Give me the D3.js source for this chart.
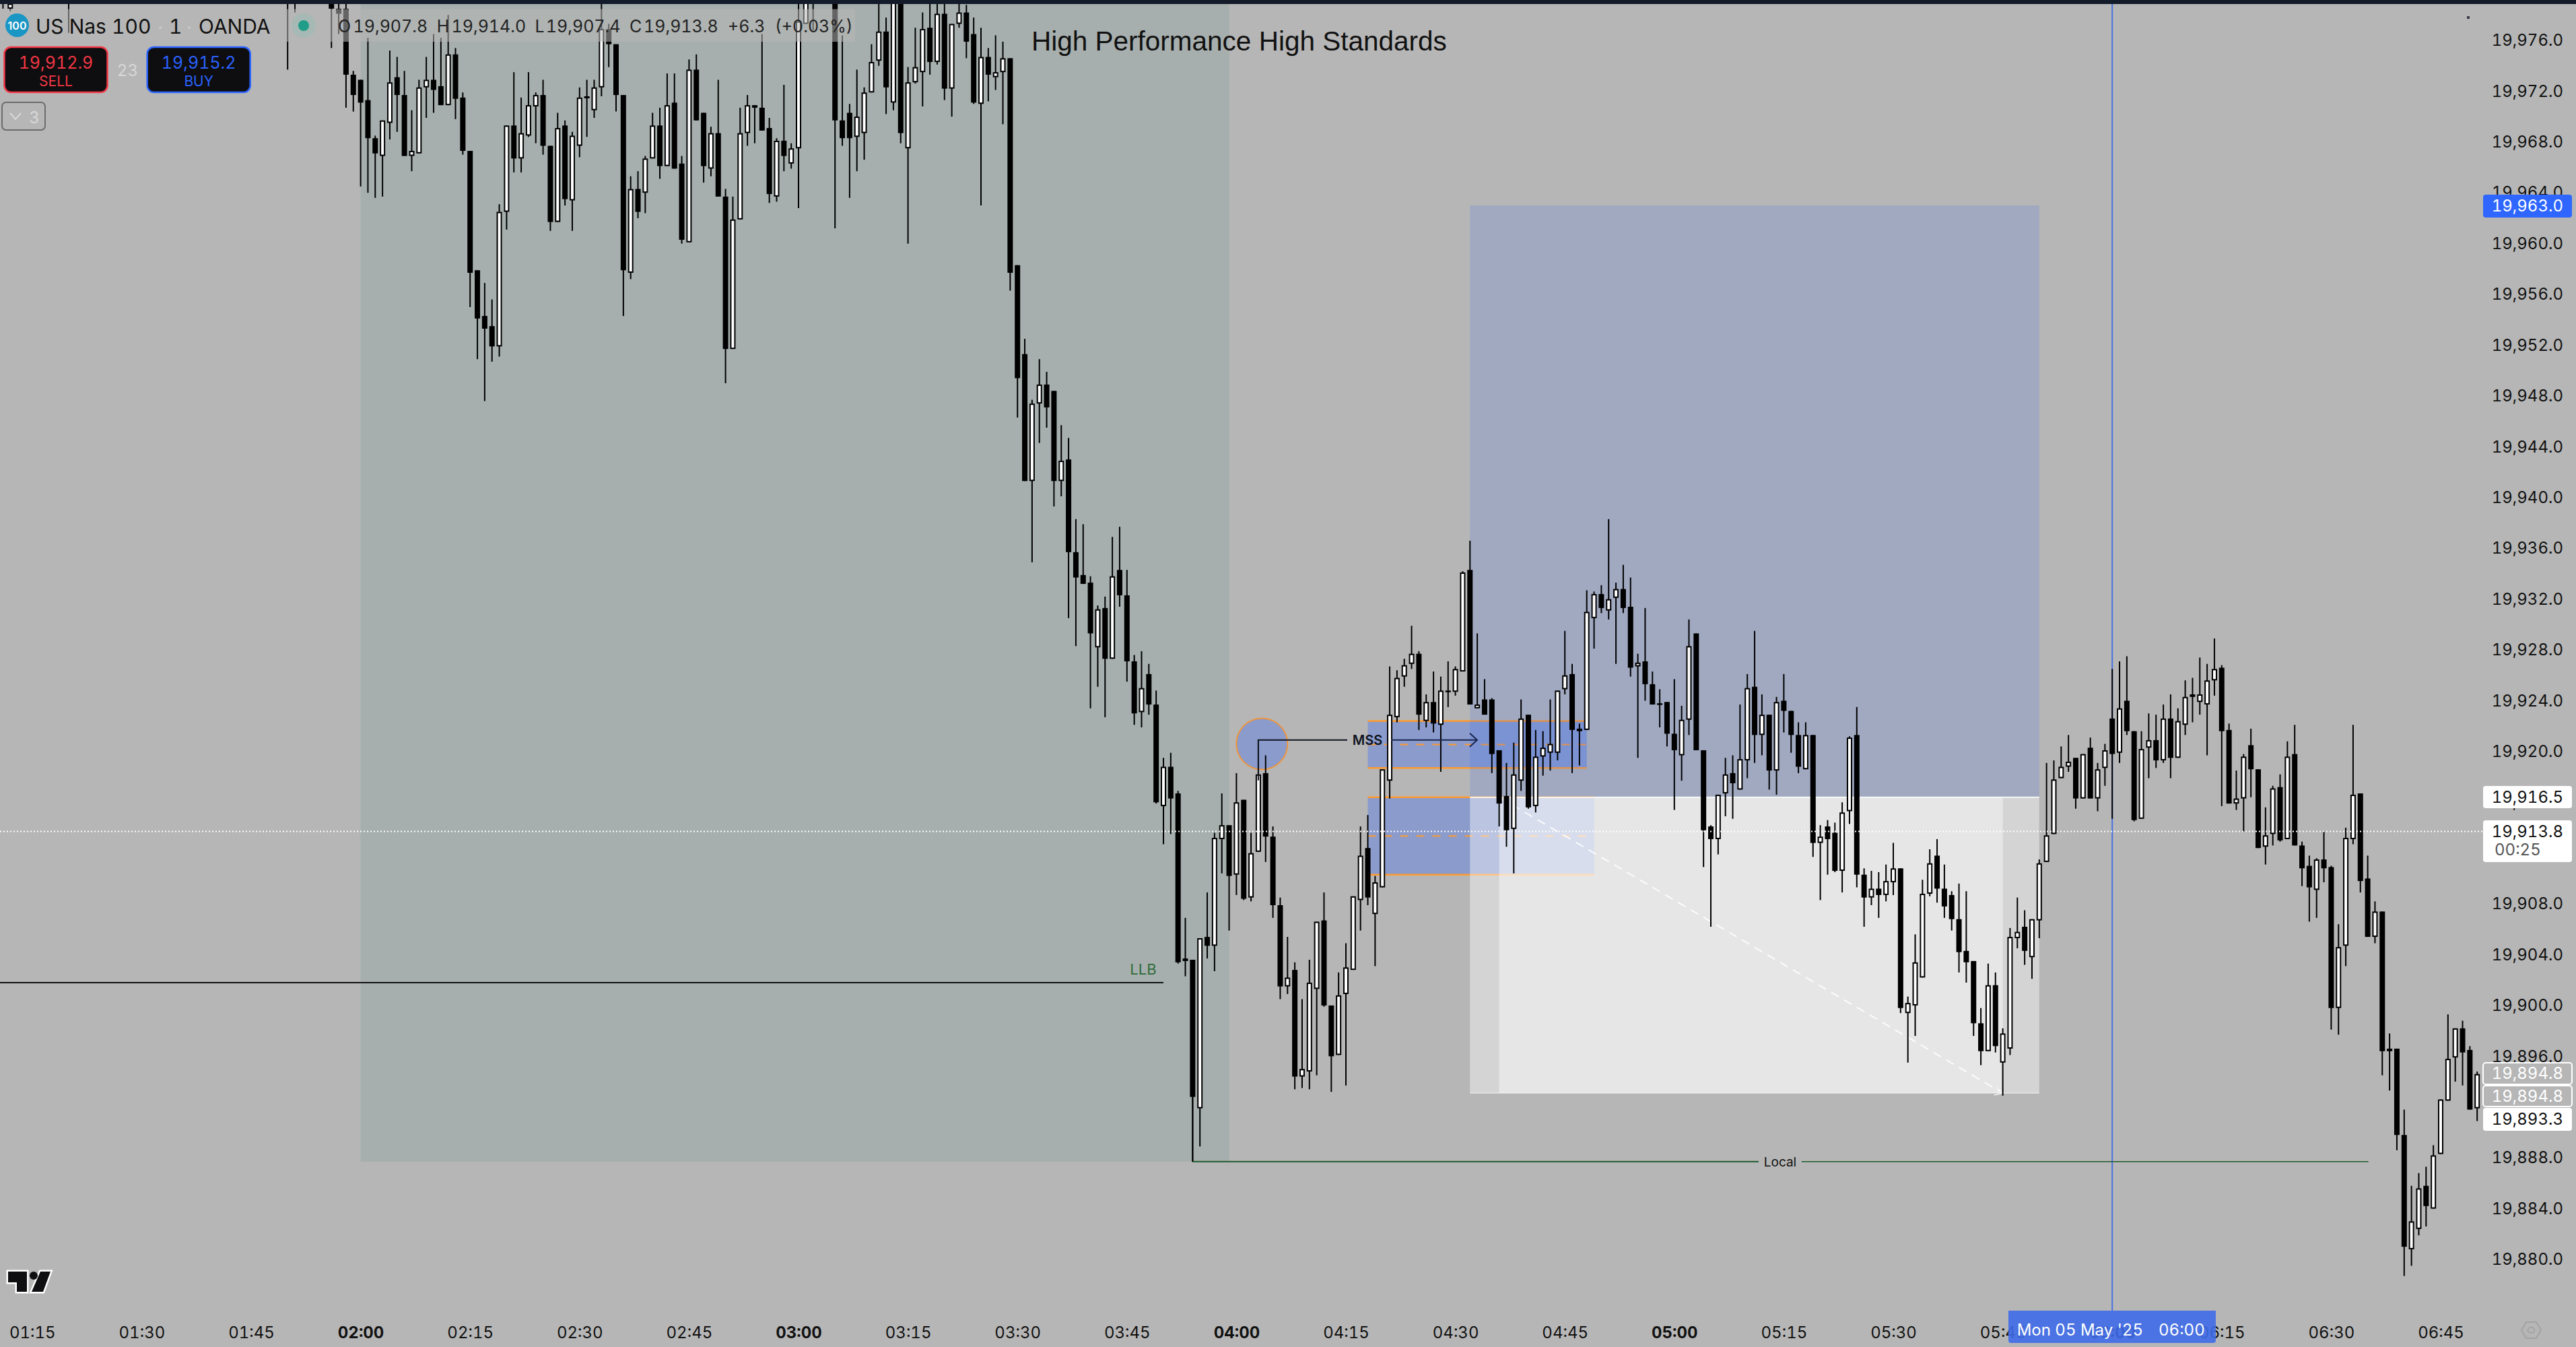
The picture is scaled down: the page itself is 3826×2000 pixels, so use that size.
<!DOCTYPE html>
<html>
<head>
<meta charset="utf-8">
<title>US Nas 100</title>
<script src="https://cdn.jsdelivr.net/npm/d3@7"></script>
<style>
	html, body { margin: 0; padding: 0; background: #b6b6b6; overflow: hidden; }
	svg { display: block; }
	text { font-family: Inter, "Liberation Sans", sans-serif; font-feature-settings: "tnum"; }
</style>
</head>
<body>
<div id="chart"></div>
<script>
///////////////////////////////////////////////////////////////////////////
//////////////////////////// data /////////////////////////////////////////
///////////////////////////////////////////////////////////////////////////

// [open, high, low, close], one row a minute.

// only what pokes into the window before 02:00
const earlyTimes = ["01:11", "01:12", "01:20", "01:50", "01:51", "01:56", "01:57", "01:58", "01:59"];
const earlyCandles = [
	[19982, 19983, 19978.5, 19980], [19978.5, 19979.5, 19978.3, 19978.9], [19983, 19984, 19976.6, 19982],
	[19983, 19984, 19973.7, 19982], [19983, 19984, 19978.2, 19982], [19982, 19983, 19975.4, 19978.5],
	[19978.5, 19978.9, 19976.5, 19978.1], [19978.5, 19979, 19970.7, 19973.3], [19973.3, 19973.6, 19970.4, 19971.7]
];

const candles02 = [
	[19972.9, 19972.9, 19964.5, 19971.1], [19971.3, 19976.2, 19964, 19968.3], [19968.3, 19968.5, 19963.6, 19967.1],
	[19966.9, 19969.7, 19963.7, 19969.7], [19969.5, 19975.2, 19968.2, 19972.7], [19973.1, 19974.7, 19968.8, 19971.7],
	[19971.7, 19973.6, 19966.9, 19966.9], [19966.9, 19970.5, 19965.7, 19967.3], [19967.1, 19972.9, 19967.1, 19972.3],
	[19972.3, 19974.7, 19969.9, 19972.9], [19972.9, 19976.5, 19970.3, 19972.1], [19972.4, 19976.2, 19970.9, 19970.9],
	[19970.9, 19978, 19970.9, 19974.9], [19974.9, 19975.4, 19969.8, 19971.4], [19971.5, 19971.9, 19967, 19967.3],
	[19967.3, 19967.3, 19955, 19957.7], [19957.9, 19957.9, 19950.9, 19954.1], [19954.3, 19956.9, 19947.6, 19953.3],
	[19953.5, 19955.6, 19950.7, 19951.9], [19951.9, 19963.1, 19951.1, 19962.5], [19962.5, 19969.3, 19961.1, 19969.3],
	[19969.3, 19973.5, 19965.6, 19966.7], [19966.7, 19971.5, 19965.6, 19968.7], [19968.5, 19973.5, 19968.4, 19970.9],
	[19970.8, 19971.9, 19967.9, 19971.7], [19971.7, 19972.9, 19967, 19967.7], [19967.7, 19967.7, 19961, 19961.7],
	[19961.7, 19970.3, 19961.7, 19969.1], [19969.3, 19969.7, 19963, 19963.5], [19963.4, 19968.8, 19961, 19968.5],
	[19967.7, 19972.3, 19966.8, 19971.5], [19971.5, 19972.9, 19968.4, 19971.6], [19970.5, 19972.9, 19969.9, 19972.3],
	[19972.3, 19979, 19971.6, 19976.9], [19976.9, 19977.3, 19973.9, 19975.7], [19975.7, 19975.7, 19970.4, 19971.7],
	[19971.7, 19971.7, 19954.3, 19957.9], [19957.7, 19965.3, 19957.2, 19964.3], [19964.3, 19965.7, 19962, 19962.5],
	[19964, 19966.9, 19962.4, 19966.7], [19966.7, 19970.3, 19966.7, 19969.3], [19969.3, 19970.7, 19965.1, 19966.1],
	[19966.1, 19973.4, 19966.1, 19970.9], [19971.1, 19973.4, 19965.9, 19965.9], [19966.3, 19966.9, 19960, 19960.3],
	[19960.1, 19974.5, 19960.1, 19973.7], [19973.7, 19974.9, 19969.7, 19969.7], [19970.3, 19970.3, 19964.8, 19966.1],
	[19965.9, 19969.2, 19965.3, 19968.7], [19968.7, 19972.9, 19963.7, 19963.7], [19963.7, 19964.3, 19949, 19951.7],
	[19951.7, 19963.7, 19951.7, 19961.9], [19961.9, 19970.7, 19961.9, 19968.7], [19968.7, 19971.7, 19967.7, 19970.9],
	[19970.9, 19970.9, 19967.9, 19970.7], [19970.7, 19976.5, 19968.9, 19968.9], [19969.1, 19969.9, 19963.2, 19963.9],
	[19963.7, 19968.3, 19963.3, 19968.1], [19968.1, 19972.5, 19965.7, 19966.9], [19966.3, 19967.9, 19965.9, 19967.5]
];

const candles03 = [
	[19967.5, 19979, 19962.8, 19977.5], [19977.3, 19981, 19977.3, 19980], [19982, 19983, 19976.8, 19980],
	[19981, 19982, 19980, 19980.5], [19981, 19982, 19980, 19980.5], [19982, 19983, 19961.2, 19969.7],
	[19969.7, 19976.4, 19967.7, 19968.3], [19970.3, 19971, 19963.6, 19968.3], [19968.4, 19973.7, 19965.7, 19970],
	[19968.7, 19972.3, 19966.6, 19971.9], [19971.9, 19975.7, 19971.9, 19974.3], [19974.4, 19979, 19974, 19976.7],
	[19976.7, 19977.8, 19970.2, 19972.3], [19971.1, 19981, 19970.5, 19980], [19981, 19982, 19967.9, 19968.7],
	[19967.5, 19973.9, 19960, 19972.7], [19972.7, 19977, 19972.6, 19973.9], [19973.5, 19978.2, 19970.8, 19976.9],
	[19977, 19979.5, 19973.3, 19974.3], [19974.3, 19980, 19974.1, 19978.1], [19978.1, 19980, 19971.3, 19972.2],
	[19972.2, 19977.3, 19970, 19977.3], [19977.3, 19980, 19977, 19978.2], [19978.2, 19978.8, 19974.6, 19975.9],
	[19976.5, 19977.8, 19971, 19971.1], [19971, 19977, 19963, 19974.7], [19974.7, 19975.4, 19971.2, 19973.3],
	[19973.1, 19976.4, 19972.1, 19973.5], [19973.5, 19975.9, 19969.4, 19974.6], [19974.6, 19974.6, 19956.3, 19957.7],
	[19958.3, 19958.3, 19946.3, 19949.4], [19951.3, 19952.5, 19941.3, 19941.3], [19941.3, 19947.7, 19934.9, 19947.4],
	[19947.4, 19950.9, 19944.3, 19948.9], [19948.9, 19949.9, 19945.5, 19947.1], [19948.4, 19948.4, 19939.3, 19941.3],
	[19941.3, 19945.7, 19940.1, 19942.9], [19943, 19944.7, 19930.5, 19935.7], [19935.7, 19938.3, 19928.3, 19933.7],
	[19933.9, 19937.9, 19933.2, 19933.2], [19933.3, 19933.8, 19923.4, 19929.3], [19928.2, 19931.5, 19925.1, 19931.2],
	[19931.3, 19932.2, 19922.7, 19927.3], [19927.3, 19936.9, 19927.3, 19933.8], [19934.3, 19937.7, 19931.4, 19932.3],
	[19932.3, 19934.3, 19925.5, 19927.1], [19927.1, 19927.6, 19922.1, 19923], [19923.1, 19927.9, 19921.9, 19925],
	[19926.1, 19926.9, 19922.9, 19923.7], [19923.7, 19924.8, 19915.9, 19916], [19915.7, 19919.5, 19912.7, 19918.8],
	[19918.8, 19919.9, 19913.5, 19916.3], [19916.7, 19916.9, 19903.3, 19903.4], [19903.7, 19906.9, 19902.3, 19903.5],
	[19903.6, 19903.6, 19887.7, 19892.8], [19891.9, 19905.3, 19888.9, 19905.3], [19905.4, 19908.9, 19903.7, 19904.7],
	[19904.7, 19913.6, 19902.7, 19913.2], [19913.1, 19916.7, 19910.4, 19914.2], [19914.2, 19914.2, 19905.9, 19910.2]
];

const candles04 = [
	[19910.3, 19918.3, 19908.7, 19916], [19916.2, 19916.2, 19908.3, 19908.4], [19908.5, 19913.6, 19908.2, 19912],
	[19912.1, 19920.9, 19912.1, 19918.2], [19918.3, 19919.7, 19911.3, 19913.3], [19913.3, 19914.1, 19906.9, 19907.9],
	[19907.9, 19908.5, 19900.5, 19901.5], [19901.5, 19905.4, 19900.9, 19902.2], [19902.8, 19903.4, 19893.4, 19894.4],
	[19894.4, 19900.5, 19893.5, 19895], [19894.8, 19903.6, 19893.4, 19901.8], [19901.3, 19906.6, 19894.5, 19906.6],
	[19906.7, 19908.9, 19899.9, 19900], [19900, 19900, 19893.2, 19896], [19896.1, 19902.6, 19896.1, 19900.8],
	[19900.9, 19904.9, 19893.7, 19903], [19902.8, 19908.6, 19902.8, 19908.6], [19908.3, 19914.1, 19905.9, 19911.8],
	[19912.4, 19915, 19907.9, 19908.5], [19907.2, 19910.2, 19903.1, 19909.7], [19909.3, 19918.6, 19909.3, 19918.6],
	[19917.7, 19926.7, 19916.3, 19922.9], [19922.7, 19926.4, 19922.3, 19925.8], [19925.9, 19927.3, 19925.1, 19926.8],
	[19926.9, 19929.9, 19926.5, 19927.7], [19927.7, 19927.9, 19921.7, 19922.9], [19922.4, 19924.5, 19921.9, 19923.9],
	[19923.9, 19926.3, 19921.5, 19922.2], [19922.1, 19925.9, 19918.4, 19924.8], [19924.8, 19927.1, 19923.5, 19924.7],
	[19924.7, 19926.7, 19924.4, 19926.5], [19926.3, 19934.2, 19926.3, 19934.1], [19934.3, 19936.6, 19923.7, 19923.7],
	[19923.4, 19929.3, 19923.4, 19923.7], [19924.1, 19925.7, 19922.9, 19922.9], [19924.1, 19924.2, 19918.3, 19919.8],
	[19920.1, 19920.1, 19914.1, 19915.9], [19916.5, 19919.1, 19912.5, 19913.8], [19913.9, 19920.7, 19910.4, 19918.2],
	[19917.7, 19924.1, 19916.9, 19922.6], [19922.9, 19922.9, 19915.5, 19915.6], [19915.7, 19921.7, 19915.2, 19919.6],
	[19919.6, 19921.6, 19918.1, 19920.3], [19919.9, 19924.1, 19918.5, 19920.6], [19919.9, 19924.8, 19919.3, 19924.8],
	[19924.9, 19929.5, 19924.5, 19926], [19926.1, 19926.9, 19918.3, 19921.7], [19921.8, 19922.2, 19918.9, 19921.6],
	[19921.7, 19932.7, 19921.7, 19931], [19930.5, 19932.6, 19928.1, 19932.4], [19932.4, 19933.1, 19930.9, 19931.3],
	[19931.1, 19938.3, 19930.4, 19932], [19932.1, 19933.3, 19926.9, 19932.8], [19932.8, 19934.7, 19930.9, 19931.3],
	[19931.4, 19933.7, 19925.9, 19926.6], [19926.7, 19927.7, 19919.5, 19927], [19927.1, 19931.3, 19924, 19925.3],
	[19925.3, 19926.3, 19923.7, 19923.7], [19923.8, 19924.9, 19921.9, 19923.7], [19923.9, 19923.9, 19920.4, 19921.4]
];

const candles05 = [
	[19921.4, 19925.7, 19915.4, 19920.1], [19919.7, 19923.6, 19917.7, 19922.5], [19922.5, 19930.4, 19921.3, 19928.3],
	[19929.3, 19929.3, 19920.1, 19920.1], [19920.1, 19920.1, 19910.9, 19913.8], [19914.1, 19914.2, 19906.2, 19913.1],
	[19913.1, 19916.6, 19911.9, 19916.6], [19916.7, 19919.5, 19914.9, 19918.2], [19918.3, 19919.7, 19914.7, 19917.5],
	[19917, 19923.7, 19917, 19919.4], [19919.3, 19926.1, 19917.9, 19925], [19925.1, 19929.5, 19919.1, 19921.3],
	[19921.3, 19924.5, 19919.7, 19922.9], [19922.9, 19922.9, 19917, 19918.5], [19918.5, 19924.3, 19916.6, 19923.9],
	[19924, 19926.1, 19921.5, 19923.2], [19923.2, 19923.2, 19919.9, 19921.3], [19921.3, 19922.3, 19918.3, 19918.8],
	[19918.6, 19922.3, 19918.6, 19921.3], [19921.3, 19921.3, 19911.7, 19912.8], [19912.8, 19914.2, 19908.3, 19913.3],
	[19914.1, 19914.6, 19910.3, 19913.1], [19913.6, 19914.4, 19910.5, 19910.6], [19910.6, 19916, 19908.9, 19915.2],
	[19915.3, 19921.2, 19914.3, 19921.1], [19921.3, 19923.5, 19909.3, 19910.3], [19910.3, 19910.8, 19906.2, 19908.5],
	[19908.5, 19910.6, 19907.9, 19909.2], [19909.2, 19910.5, 19906.9, 19908.7], [19908.7, 19911.1, 19908.2, 19909.8],
	[19909.7, 19912.8, 19908.7, 19910.8], [19910.8, 19910.8, 19899.4, 19899.8], [19899.4, 19900.7, 19895.5, 19900.2],
	[19900, 19905.6, 19897.6, 19903.4], [19902.2, 19909.9, 19902.2, 19908.8], [19908.8, 19912.3, 19908.6, 19911.2],
	[19911.8, 19913.1, 19908.1, 19909.2], [19909.2, 19911.1, 19906.9, 19907.8], [19908.7, 19909, 19905.9, 19906.8],
	[19906.8, 19909.6, 19902.6, 19904.2], [19904.3, 19909, 19901.8, 19903.4], [19903.5, 19903.5, 19897.6, 19898.6],
	[19898.6, 19899.8, 19895.3, 19896.4], [19896.4, 19903.3, 19896.4, 19901.6], [19901.6, 19902.6, 19896.3, 19896.8],
	[19895.5, 19898.2, 19892.9, 19897.8], [19896.6, 19906.1, 19896.1, 19905.4], [19905.3, 19908.5, 19904.5, 19905.8],
	[19906.2, 19907.5, 19903.2, 19904.3], [19903.8, 19906.8, 19902.1, 19906.8], [19906.7, 19911.5, 19905.3, 19911.2],
	[19911.3, 19919.1, 19911.3, 19913.4], [19913.5, 19919.3, 19913.5, 19917.8], [19917.9, 19920.4, 19917.9, 19918.8],
	[19918.8, 19921.3, 19918.4, 19919.2], [19919.5, 19919.5, 19915.5, 19916.3], [19916.3, 19919.8, 19916.3, 19919.8],
	[19920.3, 19921.1, 19916.3, 19916.3], [19916.3, 19919.1, 19915.3, 19918.6], [19918.7, 19920.6, 19917.3, 19920.1]
];

const candles06 = [
	[19922.6, 19926.5, 19914.7, 19919.8], [19919.9, 19927.1, 19919.1, 19923.4], [19924, 19927.5, 19921.3, 19921.6],
	[19921.6, 19921.6, 19914.5, 19914.6], [19914.7, 19921.6, 19914.7, 19920.2], [19920.3, 19923, 19917.9, 19920.9],
	[19920.9, 19922.9, 19918.7, 19919.3], [19919.3, 19923.7, 19919.1, 19922.6], [19922.6, 19924.5, 19917.9, 19919.5],
	[19919.5, 19923.4, 19919.5, 19922.4], [19922.1, 19925.6, 19921.3, 19924.3], [19924.3, 19925.8, 19922.3, 19924.5],
	[19923.9, 19927.4, 19922.9, 19924.5], [19923.7, 19926.9, 19919.7, 19925.6], [19925.6, 19928.9, 19924.4, 19926.5],
	[19926.6, 19926.8, 19915.7, 19921.6], [19921.7, 19922.2, 19915.9, 19915.9], [19915.9, 19918.5, 19915.4, 19916.3],
	[19916.3, 19919.8, 19913.7, 19919.6], [19920.5, 19921.8, 19916.4, 19918.6], [19918.6, 19918.6, 19912.4, 19912.4],
	[19912.5, 19915.6, 19911.1, 19913.4], [19913.5, 19917.3, 19912.6, 19917.1], [19917.2, 19918.2, 19912.9, 19913],
	[19913.1, 19920.8, 19913.1, 19919.6], [19919.8, 19922.1, 19912.6, 19912.6], [19912.6, 19912.9, 19909.4, 19910.8],
	[19911, 19911.8, 19906.6, 19909.3], [19909.1, 19911.6, 19906.9, 19911.5], [19911.5, 19913.7, 19909.7, 19910.8],
	[19910.9, 19911, 19898.1, 19899.8], [19899.8, 19906.4, 19897.7, 19904.6], [19904.7, 19914, 19903.1, 19913.2],
	[19913.1, 19922.1, 19912.7, 19916.6], [19916.7, 19916.7, 19908.9, 19909.8], [19910, 19911.8, 19905.4, 19905.4],
	[19905.4, 19908.2, 19904.9, 19907.4], [19907.4, 19907.4, 19894.5, 19896.4], [19896.6, 19897.8, 19893.3, 19896.4],
	[19896.6, 19896.6, 19888.6, 19889.8], [19889.8, 19891.8, 19878.7, 19881], [19880.8, 19885.8, 19879.5, 19883],
	[19882.4, 19886.8, 19881.9, 19885.6], [19885.8, 19887.3, 19882.6, 19884.2], [19884, 19889, 19884, 19888.2],
	[19888.3, 19892.6, 19888.3, 19892.6], [19892.5, 19899.3, 19892.5, 19895.8], [19895.9, 19898.2, 19894, 19898.2],
	[19898.2, 19898.8, 19893.7, 19896.3], [19896.5, 19896.8, 19891.8, 19891.8], [19891.9, 19894.8, 19890.9, 19894.6]
];

// axes
const priceTicks = [19976, 19972, 19968, 19964, 19960, 19956, 19952, 19948, 19944, 19940, 19936, 19932, 19928,
	19924, 19920, 19916, 19912, 19908, 19904, 19900, 19896, 19888, 19884, 19880];
const timeTicks = ["01:15", "01:30", "01:45", "02:00", "02:15", "02:30", "02:45", "03:00", "03:15", "03:30", "03:45",
	"04:00", "04:15", "04:30", "04:45", "05:00", "05:15", "05:30", "05:45", "06:00", "06:15", "06:30", "06:45"];

// drawings, in price and time
const sessionBox = { from: "02:00", to: "03:59", top: 19985, bottom: 19887.7 };
const longPosition = { from: "04:32", to: "05:50", target: 19963, entry: 19916.4, stop: 19893.1 };
const rangeInner = { from: "04:36", to: "05:45" };
const gaps = [
	{ from: "04:18", to: "04:48", top: 19922.4, bottom: 19918.7 },
	{ from: "04:18", to: "04:49", top: 19916.4, bottom: 19910.3 }
];
const lastPrice = 19913.7;
const crosshairTime = "06:00";

// header
const ohlcLabels = ["O", "19,907.8", "H", "19,914.0", "L", "19,907.4", "C", "19,913.8", "+6.3", "(+0.03%)"];

///////////////////////////////////////////////////////////////////////////
//////////////////////////// drawing function /////////////////////////////
///////////////////////////////////////////////////////////////////////////

const createChart = () => {
	const width = 3826;
	const height = 2000;
	const font = 'Inter, "Liberation Sans", sans-serif';

	const toDate = (t) => new Date(`2025-05-05T${t}:00Z`);
	const addMinutes = (t, i) => new Date(toDate(t).getTime() + i * 60000);

	//////////////////////////// candles //////////////////////////////////////

	const toCandle = (row, date) => ({ date, open: row[0], high: row[1], low: row[2], close: row[3] });

	let candles = earlyCandles.map((row, i) => toCandle(row, toDate(earlyTimes[i])));
	[["02:00", candles02], ["03:00", candles03], ["04:00", candles04], ["05:00", candles05], ["06:00", candles06]]
		.forEach(([start, rows]) => {
			rows.forEach((row, i) => candles.push(toCandle(row, addMinutes(start, i))));
		});

	//////////////////////////// scales ///////////////////////////////////////

	const xScale = d3.scaleUtc().domain([toDate("02:00"), toDate("06:00")]).range([535.6, 3137.2]);
	const yScale = d3.scaleLinear().domain([19976, 19880]).range([60, 1870]);

	//////////////////////////// svg //////////////////////////////////////////

	const svg = d3.select("#chart").append("svg").attr("width", width).attr("height", height);
	svg.append("rect").attr("width", width).attr("height", height).attr("fill", "#b6b6b6");

	svg.append("defs").append("clipPath").attr("id", "pane")
		.append("rect").attr("x", 0).attr("y", 6).attr("width", 3690).attr("height", 1940);

	const pane = svg.append("g").attr("clip-path", "url(#pane)");

	//////////////////////////// boxes under the candles //////////////////////

	const box = (parent, from, to, top, bottom) => parent.append("rect")
		.attr("x", xScale(toDate(from)))
		.attr("width", xScale(toDate(to)) - xScale(toDate(from)))
		.attr("y", yScale(top))
		.attr("height", yScale(bottom) - yScale(top));

	box(pane, sessionBox.from, sessionBox.to, sessionBox.top, sessionBox.bottom).attr("fill", "#a6afad");

	const xCross = xScale(toDate(crosshairTime));
	pane.append("line").attr("x1", xCross).attr("x2", xCross).attr("y1", 6).attr("y2", 1946)
		.attr("stroke", "#4672e0").attr("stroke-width", 2);

	gaps.forEach((g) => {
		box(pane, g.from, g.to, g.top, g.bottom).attr("fill", "#2962ff").attr("fill-opacity", 0.31);
		[g.top, g.bottom].forEach((p) => {
			pane.append("line")
				.attr("x1", xScale(toDate(g.from))).attr("x2", xScale(toDate(g.to)))
				.attr("y1", yScale(p)).attr("y2", yScale(p))
				.attr("stroke", "#ff9a2e").attr("stroke-width", 2.5);
		});
		pane.append("line")
			.attr("x1", xScale(toDate(g.from))).attr("x2", xScale(toDate(g.to)))
			.attr("y1", yScale((g.top + g.bottom) / 2)).attr("y2", yScale((g.top + g.bottom) / 2))
			.attr("stroke", "#ff9a2e").attr("stroke-width", 2).attr("stroke-dasharray", "12 12");
	});

	// circle on the swing high
	pane.append("circle")
		.attr("cx", xScale(addMinutes("04:03", 0.5))).attr("cy", yScale(19920.6)).attr("r", 38)
		.attr("fill", "#2962ff").attr("fill-opacity", 0.31)
		.attr("stroke", "#f0953a").attr("stroke-width", 2);

	// long position tool
	const lp = longPosition;
	box(pane, lp.from, lp.to, lp.target, lp.entry).attr("fill", "#2962ff").attr("fill-opacity", 0.15);
	box(pane, lp.from, lp.to, lp.entry, lp.stop).attr("fill", "#fff").attr("fill-opacity", 0.42);
	box(pane, rangeInner.from, rangeInner.to, lp.entry, lp.stop).attr("fill", "#fff").attr("fill-opacity", 0.42);
	[[lp.entry, 0.85], [lp.stop, 0.4]].forEach(([p, o]) => {
		pane.append("line")
			.attr("x1", xScale(toDate(lp.from))).attr("x2", xScale(toDate(lp.to)))
			.attr("y1", yScale(p)).attr("y2", yScale(p))
			.attr("stroke", "#fff").attr("stroke-opacity", o).attr("stroke-width", 2);
	});

	// dashed diagonal with arrow
	const dx1 = xScale(toDate(rangeInner.from));
	const dx2 = xScale(toDate(rangeInner.to));
	const dy1 = yScale(lp.entry);
	const dy2 = yScale(lp.stop);
	pane.append("line").attr("x1", dx1).attr("y1", dy1).attr("x2", dx2).attr("y2", dy2)
		.attr("stroke", "#fff").attr("stroke-opacity", 0.85).attr("stroke-width", 2).attr("stroke-dasharray", "13 9");
	pane.append("path")
		.attr("d", `M${dx2 - 13},${dy2 + 3}L${dx2},${dy2}L${dx2 - 9},${dy2 - 9}`)
		.attr("fill", "none").attr("stroke", "#f4f4f4").attr("stroke-width", 1.5);

	//////////////////////////// lines and labels under candles ///////////////

	const llbY = yScale(19901.8);
	pane.append("line").attr("x1", 0).attr("x2", 1728).attr("y1", llbY).attr("y2", llbY)
		.attr("stroke", "#111").attr("stroke-width", 2);
	pane.append("text").attr("x", 1698).attr("y", llbY - 12).attr("text-anchor", "middle")
		.attr("font-size", 22).attr("fill", "#2f6b3a").text("LLB");

	const localY = yScale(19887.7);
	const localX = xScale(addMinutes("03:54", 0));
	pane.append("line").attr("x1", localX).attr("x2", localX).attr("y1", yScale(19892.8)).attr("y2", localY)
		.attr("stroke", "#111").attr("stroke-width", 2);
	pane.append("line").attr("x1", localX).attr("x2", 2612).attr("y1", localY).attr("y2", localY)
		.attr("stroke", "#1e5a2a").attr("stroke-width", 2);
	pane.append("line").attr("x1", 2676).attr("x2", 3517.6).attr("y1", localY).attr("y2", localY)
		.attr("stroke", "#1e5a2a").attr("stroke-width", 1.5);
	pane.append("text").attr("x", 2644).attr("y", localY + 7).attr("text-anchor", "middle")
		.attr("font-size", 19).attr("fill", "#111").text("Local");

	//////////////////////////// candles //////////////////////////////////////

	const bodyWidth = 8;
	const candle = pane.append("g").selectAll("g").data(candles).join("g");

	candle.append("line")
		.attr("x1", (d) => xScale(d.date)).attr("x2", (d) => xScale(d.date))
		.attr("y1", (d) => yScale(d.high)).attr("y2", (d) => yScale(d.low))
		.attr("stroke", "#000").attr("stroke-width", 2);

	candle.filter((d) => d.close < d.open).append("rect")
		.attr("x", (d) => xScale(d.date) - bodyWidth / 2)
		.attr("width", bodyWidth)
		.attr("y", (d) => yScale(d.open))
		.attr("height", (d) => Math.max(2.5, yScale(d.close) - yScale(d.open)))
		.attr("fill", "#000");

	candle.filter((d) => d.close >= d.open).append("rect")
		.attr("x", (d) => xScale(d.date) - bodyWidth / 2 + 1)
		.attr("width", bodyWidth - 2)
		.attr("y", (d) => yScale(d.close) + 1)
		.attr("height", (d) => Math.max(1, yScale(d.open) - yScale(d.close) - 2))
		.attr("fill", "#fff").attr("stroke", "#000").attr("stroke-width", 2);

	//////////////////////////// MSS //////////////////////////////////////////

	const mssY = yScale(19920.9);
	const mssX = xScale(addMinutes("04:03", 0));
	pane.append("path")
		.attr("d", `M${mssX},${mssY + 60}V${mssY}H2001`)
		.attr("fill", "none").attr("stroke", "#10141f").attr("stroke-width", 2);
	pane.append("text").attr("x", 2031).attr("y", mssY + 7).attr("text-anchor", "middle")
		.attr("font-size", 20).attr("font-weight", 600).attr("fill", "#10141f").text("MSS");
	pane.append("path")
		.attr("d", `M2066,${mssY}H2194M2183,${mssY - 10}L2194,${mssY}L2183,${mssY + 10}`)
		.attr("fill", "none").attr("stroke", "#1a2750").attr("stroke-width", 2);

	// last price dots go over the candles
	svg.append("line").attr("x1", 0).attr("x2", 3688)
		.attr("y1", yScale(lastPrice)).attr("y2", yScale(lastPrice))
		.attr("stroke", "#fff").attr("stroke-width", 2).attr("stroke-dasharray", "2 3");

	//////////////////////////// axes /////////////////////////////////////////

	const yAxis = svg.append("g")
		.attr("transform", "translate(3807,0)")
		.call(d3.axisLeft(yScale).tickValues(priceTicks).tickSize(0).tickPadding(0).tickFormat(d3.format(",.1f")));
	yAxis.select(".domain").remove();
	yAxis.selectAll("text").attr("font-family", font).attr("font-size", 24).attr("fill", "#111");

	const xAxis = svg.append("g")
		.attr("transform", "translate(0,1970)")
		.call(d3.axisBottom(xScale).tickValues(timeTicks.map(toDate)).tickSize(0).tickPadding(0)
			.tickFormat(d3.utcFormat("%H:%M")));
	xAxis.select(".domain").remove();
	xAxis.selectAll("text")
		.attr("font-family", font).attr("font-size", 24).attr("fill", "#111")
		.attr("font-weight", (d) => (d.getUTCMinutes() === 0 ? 700 : 400));

	//////////////////////////// price tags ///////////////////////////////////

	const priceText = (txt, y, fill) => svg.append("text")
		.attr("x", 3807).attr("y", y).attr("text-anchor", "end").attr("dominant-baseline", "central")
		.attr("font-size", 24).attr("fill", fill).text(txt);

	const tag = (y, h, fill, stroke) => svg.append("rect")
		.attr("x", 3688).attr("y", y).attr("width", 132).attr("height", h).attr("rx", 4)
		.attr("fill", fill).attr("stroke", stroke || "none").attr("stroke-width", 2);

	tag(289, 34, "#2e66ff");
	priceText("19,963.0", 305, "#fff");
	tag(1167, 33, "#fff");
	priceText("19,916.5", 1183, "#111");
	tag(1218, 62, "#fff");
	priceText("19,913.8", 1234, "#111");
	svg.append("text").attr("x", 3705).attr("y", 1261).attr("dominant-baseline", "central")
		.attr("font-size", 24).attr("fill", "#555").text("00:25");
	tag(1578, 32, "#b6b6b6", "#fff");
	priceText("19,894.8", 1593, "#fff");
	tag(1612, 31, "#b6b6b6", "#fff");
	priceText("19,894.8", 1627, "#fff");
	tag(1645, 34, "#fff");
	priceText("19,893.3", 1661, "#111");

	// crosshair time label, square on top and rounded below
	svg.append("path").attr("d", "M2983,1946H3291V1990a4,4 0 0 1 -4,4H2987a4,4 0 0 1 -4,-4Z")
		.attr("fill", "#3f6be8").attr("fill-opacity", 0.9);
	svg.append("text").attr("x", 3183).attr("y", 1974).attr("dominant-baseline", "central").attr("text-anchor", "end")
		.attr("font-size", 24).attr("fill", "#fff").text("Mon 05 May '25");
	svg.append("text").attr("x", 3206).attr("y", 1974).attr("dominant-baseline", "central")
		.attr("font-size", 24).attr("fill", "#fff").text("06:00");

	//////////////////////////// header ///////////////////////////////////////

	svg.append("rect").attr("width", width).attr("height", 6).attr("fill", "#131a2a");

	// legend strip dims whatever runs under it
	svg.append("rect").attr("x", 0).attr("y", 13.5).attr("width", 1270).attr("height", 48.5)
		.attr("fill", "#b6b6b6").attr("fill-opacity", 0.55);

	svg.append("circle").attr("cx", 25.5).attr("cy", 37.5).attr("r", 17.5).attr("fill", "#1a96c4");
	svg.append("text").attr("x", 25.5).attr("y", 38).attr("text-anchor", "middle").attr("dominant-baseline", "central")
		.style("font-feature-settings", "normal")
		.attr("font-size", 16).attr("font-weight", 600).attr("fill", "#fff").text("100");

	const headText = (txt, x) => svg.append("text").attr("x", x).attr("y", 39).attr("dominant-baseline", "central")
		.attr("font-size", 30).attr("fill", "#111").text(txt);
	headText("US Nas 100", 53);
	headText("1", 251);
	headText("OANDA", 295);
	[238, 281].forEach((x) => svg.append("circle").attr("cx", x).attr("cy", 41).attr("r", 2).attr("fill", "#c9c9c9"));

	svg.append("circle").attr("cx", 451).attr("cy", 38).attr("r", 18).attr("fill", "#a6b9b4");
	svg.append("circle").attr("cx", 451).attr("cy", 38).attr("r", 8).attr("fill", "#1f9d88");

	const ohlcX = [502, 524.5, 648.7, 670.5, 794.6, 810.8, 935, 956, 1081, 1151];
	ohlcLabels.forEach((txt, i) => {
		svg.append("text").attr("x", ohlcX[i]).attr("y", 39).attr("dominant-baseline", "central")
			.attr("font-size", 25).attr("fill", "#222").text(txt);
	});

	// title
	svg.append("text").attr("x", 1532).attr("y", 61).attr("dominant-baseline", "central")
		.style("font-family", '"Liberation Sans", sans-serif')
		.attr("font-size", 40.5).attr("fill", "#111").text("High Performance High Standards");

	// sell / buy
	const tradeButton = (x, color, price, side) => {
		svg.append("rect").attr("x", x).attr("y", 70).attr("width", 153).attr("height", 67).attr("rx", 10)
			.attr("fill", "#0e0e10").attr("stroke", color).attr("stroke-width", 2.5);
		svg.append("text").attr("x", x + 76.5).attr("y", 93).attr("text-anchor", "middle")
			.attr("dominant-baseline", "central").attr("font-size", 25).attr("fill", color).text(price);
		svg.append("text").attr("x", x + 76.5).attr("y", 120).attr("text-anchor", "middle")
			.attr("dominant-baseline", "central").attr("font-size", 21).attr("fill", color).text(side);
	};
	tradeButton(6.5, "#f23645", "19,912.9", "SELL");
	tradeButton(218.7, "#2962ff", "19,915.2", "BUY");
	svg.append("text").attr("x", 189.4).attr("y", 104).attr("text-anchor", "middle")
		.attr("dominant-baseline", "central").attr("font-size", 24).attr("fill", "#d8d8d8").text("23");

	svg.append("rect").attr("x", 3).attr("y", 152).attr("width", 64).attr("height", 41).attr("rx", 6)
		.attr("fill", "none").attr("stroke", "#6c6c6c").attr("stroke-width", 2);
	svg.append("path").attr("d", "M15,168L23,177L31,168")
		.attr("fill", "none").attr("stroke", "#d8d8d8").attr("stroke-width", 2);
	svg.append("text").attr("x", 51).attr("y", 174).attr("text-anchor", "middle")
		.attr("dominant-baseline", "central").attr("font-size", 24).attr("fill", "#d8d8d8").text("3");

	// odd little pixel top right
	svg.append("rect").attr("x", 3664).attr("y", 24).attr("width", 4).attr("height", 4).attr("fill", "#3a3a4a");

	//////////////////////////// logo and settings ////////////////////////////

	const logo = svg.append("g")
		.attr("stroke", "#fff").attr("stroke-width", 5).attr("stroke-linejoin", "miter").style("paint-order", "stroke");
	logo.append("path").attr("d", "M12,1888H40V1918H25V1904H12Z").attr("fill", "#0e0e10");
	logo.append("path").attr("d", "M60,1888H75L64,1918H47Z").attr("fill", "#0e0e10");
	logo.append("circle").attr("cx", 50).attr("cy", 1894).attr("r", 6).attr("fill", "#0e0e10").attr("stroke", "none");

	svg.append("path").attr("d", "M3745,1975L3752,1963H3767L3774,1975L3767,1987H3752Z")
		.attr("fill", "none").attr("stroke", "#a3a3a3").attr("stroke-width", 2);
	svg.append("ellipse").attr("cx", 3759.5).attr("cy", 1975).attr("rx", 5).attr("ry", 4)
		.attr("fill", "none").attr("stroke", "#a3a3a3").attr("stroke-width", 2);
};

createChart();
</script>
</body>
</html>
